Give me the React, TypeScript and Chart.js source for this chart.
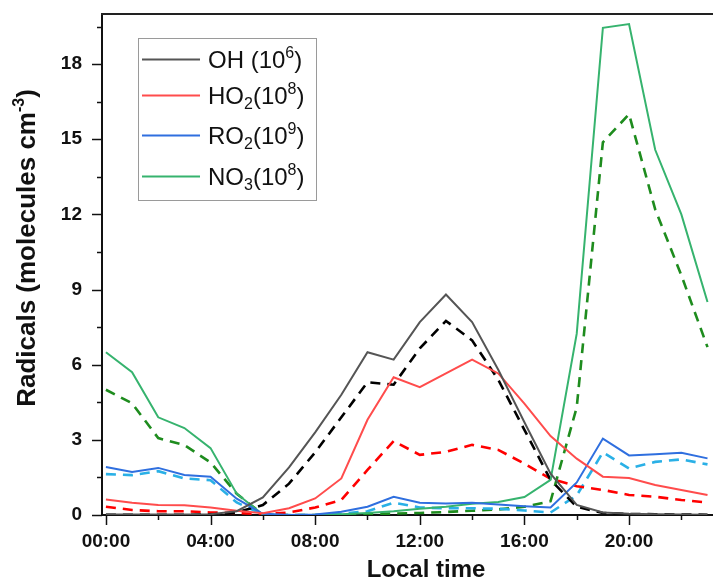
import React, { useEffect, useRef } from 'react';
import { Chart, registerables } from 'chart.js';

Chart.register(...registerables);

// ---- Data ----
const hours = [0, 1, 2, 3, 4, 5, 6, 7, 8, 9, 10, 11, 12, 13, 14, 15, 16, 17, 18, 19, 20, 21, 22, 23];

const ohSolid = [0.02, 0.02, 0.02, 0.02, 0.03, 0.15, 0.7, 1.9, 3.3, 4.8, 6.5, 6.2, 7.7, 8.8, 7.7, 5.8, 3.7, 1.65, 0.4, 0.1, 0.05, 0.03, 0.02, 0.01];
const ohDashed = [0.01, 0.01, 0.01, 0.01, 0.02, 0.1, 0.4, 1.25, 2.5, 3.9, 5.3, 5.2, 6.65, 7.75, 6.97, 5.4, 3.4, 1.4, 0.33, 0.08, 0.04, 0.03, 0.02, 0.01];
const ho2Solid = [0.62, 0.49, 0.4, 0.39, 0.3, 0.17, 0.07, 0.27, 0.66, 1.46, 3.8, 5.5, 5.1, 5.65, 6.2, 5.65, 4.45, 3.15, 2.25, 1.53, 1.48, 1.2, 1.0, 0.8];
const ho2Dashed = [0.33, 0.2, 0.15, 0.15, 0.1, 0.08, 0.03, 0.1, 0.3, 0.6, 1.8, 2.95, 2.4, 2.52, 2.8, 2.6, 2.05, 1.45, 1.15, 1.0, 0.8, 0.73, 0.6, 0.5];
const ro2Solid = [1.92, 1.72, 1.88, 1.6, 1.53, 0.65, 0.05, 0.0, 0.02, 0.13, 0.33, 0.73, 0.49, 0.46, 0.49, 0.42, 0.35, 0.3, 1.3, 3.05, 2.38, 2.43, 2.48, 2.26];
const ro2Dashed = [1.63, 1.59, 1.75, 1.46, 1.39, 0.5, 0.02, 0.0, 0.0, 0.05, 0.15, 0.49, 0.3, 0.27, 0.27, 0.25, 0.18, 0.1, 0.78, 2.5, 1.86, 2.12, 2.22, 2.02];
const no3Solid = [6.5, 5.7, 3.9, 3.47, 2.67, 0.85, 0.02, 0.0, 0.0, 0.03, 0.08, 0.15, 0.25, 0.33, 0.45, 0.52, 0.72, 1.4, 7.24, 19.45, 19.6, 14.58, 12.0, 8.5];
const no3Dashed = [5.0, 4.46, 3.07, 2.79, 2.1, 0.85, 0.02, 0.0, 0.0, 0.0, 0.03, 0.06, 0.08, 0.12, 0.17, 0.22, 0.33, 0.55, 4.3, 14.88, 16.0, 12.2, 9.57, 6.7];

const xTickValues = [0, 2, 4, 6, 8, 10, 12, 14, 16, 18, 20, 22];
const xLabelValues = [0, 4, 8, 12, 16, 20];
const yTickValues = [0, 1.5, 3, 4.5, 6, 7.5, 9, 10.5, 12, 13.5, 15, 16.5, 18, 19.5];
const yLabelValues = [0, 3, 6, 9, 12, 15, 18];

const xTitle = 'Local time';
const yTitleMain = 'Radicals (molecules cm';
const yTitleSup = '-3';
const yTitleEnd = ')';

type Part = { t: string; sub?: boolean; sup?: boolean };
const legendItems: { color: string; parts: Part[] }[] = [
  { color: '#555555', parts: [{ t: 'OH (10' }, { t: '6', sup: true }, { t: ')' }] },
  { color: '#ff4c4c', parts: [{ t: 'HO' }, { t: '2', sub: true }, { t: '(10' }, { t: '8', sup: true }, { t: ')' }] },
  { color: '#2f6fdf', parts: [{ t: 'RO' }, { t: '2', sub: true }, { t: '(10' }, { t: '9', sup: true }, { t: ')' }] },
  { color: '#36b36e', parts: [{ t: 'NO' }, { t: '3', sub: true }, { t: '(10' }, { t: '8', sup: true }, { t: ')' }] },
];

const FONT = "'Liberation Sans', Arial, sans-serif";

const toPts = (arr: number[]) => arr.map((v, i) => ({ x: hours[i], y: v }));

const decorPlugin = {
  id: 'decor',
  afterDraw(chart: any) {
    const ctx = chart.ctx as CanvasRenderingContext2D;
    const area = chart.chartArea;
    const xs = chart.scales.x;
    const ys = chart.scales.y;
    ctx.save();
    // top border
    ctx.strokeStyle = '#222';
    ctx.lineWidth = 2;
    ctx.setLineDash([]);
    ctx.beginPath();
    ctx.moveTo(area.left - 1, area.top);
    ctx.lineTo(area.right, area.top);
    ctx.stroke();
    // ticks
    ctx.strokeStyle = '#111';
    ctx.lineWidth = 1.5;
    xTickValues.forEach((v) => {
      const px = Math.round(xs.getPixelForValue(v)) + 0.5;
      const len = v % 4 === 0 ? 10 : 5;
      ctx.beginPath();
      ctx.moveTo(px, area.bottom);
      ctx.lineTo(px, area.bottom + len);
      ctx.stroke();
    });
    yTickValues.forEach((v) => {
      const py = Math.round(ys.getPixelForValue(v)) + 0.5;
      const len = v % 3 === 0 ? 10 : 5;
      ctx.beginPath();
      ctx.moveTo(area.left, py);
      ctx.lineTo(area.left - len, py);
      ctx.stroke();
    });
    // x title
    ctx.fillStyle = '#111';
    ctx.font = `bold 24px ${FONT}`;
    ctx.textAlign = 'center';
    ctx.textBaseline = 'alphabetic';
    ctx.fillText(xTitle, 426, 577);
    // y title (rotated)
    ctx.save();
    ctx.translate(35, 248);
    ctx.rotate(-Math.PI / 2);
    const big = `bold 26px ${FONT}`;
    const small = `bold 16px ${FONT}`;
    ctx.font = big;
    const w1 = ctx.measureText(yTitleMain).width;
    const w3 = ctx.measureText(yTitleEnd).width;
    ctx.font = small;
    const w2 = ctx.measureText(yTitleSup).width;
    const total = w1 + w2 + w3;
    let x0 = -total / 2;
    ctx.textAlign = 'left';
    ctx.font = big;
    ctx.fillText(yTitleMain, x0, 0);
    x0 += w1;
    ctx.font = small;
    ctx.fillText(yTitleSup, x0, -11);
    x0 += w2;
    ctx.font = big;
    ctx.fillText(yTitleEnd, x0, 0);
    ctx.restore();
    // legend
    ctx.fillStyle = '#fff';
    ctx.fillRect(138.5, 38.5, 178, 162);
    ctx.strokeStyle = '#9a9a9a';
    ctx.lineWidth = 1;
    ctx.strokeRect(138.5, 38.5, 178, 162);
    const rowsY = [59.5, 95.5, 135.5, 176.5];
    legendItems.forEach((item, i) => {
      const y = rowsY[i];
      ctx.strokeStyle = item.color;
      ctx.lineWidth = 2.2;
      ctx.beginPath();
      ctx.moveTo(142, y);
      ctx.lineTo(200, y);
      ctx.stroke();
      let x = 208;
      const base = y + 8.5;
      ctx.fillStyle = '#111';
      ctx.textAlign = 'left';
      item.parts.forEach((p) => {
        if (p.sub || p.sup) {
          ctx.font = `16px ${FONT}`;
          const yy = p.sub ? base + 5 : base - 10;
          ctx.fillText(p.t, x, yy);
          x += ctx.measureText(p.t).width;
        } else {
          ctx.font = `24px ${FONT}`;
          ctx.fillText(p.t, x, base);
          x += ctx.measureText(p.t).width;
        }
      });
    });
    ctx.restore();
  },
};

function App() {
  const ref = useRef<HTMLCanvasElement | null>(null);
  useEffect(() => {
    document.body.style.margin = '0';
    const canvas = ref.current;
    if (!canvas) return;
    const ds = (label: string, data: number[], color: string, dashed: boolean) => ({
      label,
      data: toPts(data),
      borderColor: color,
      backgroundColor: color,
      borderWidth: dashed ? 2.6 : 2,
      borderDash: dashed ? [10, 7] : [],
      pointRadius: 0,
      tension: 0,
      fill: false,
    });
    const chart = new Chart(canvas, {
      type: 'line',
      data: {
        datasets: [
          ds('OH', ohSolid, '#555555', false),
          ds('HO2', ho2Solid, '#ff4c4c', false),
          ds('RO2', ro2Solid, '#2f6fdf', false),
          ds('NO3', no3Solid, '#36b36e', false),
          ds('OH model', ohDashed, '#000000', true),
          ds('HO2 model', ho2Dashed, '#ff0000', true),
          ds('RO2 model', ro2Dashed, '#2ab0e6', true),
          ds('NO3 model', no3Dashed, '#1e8c1e', true),
        ],
      },
      options: {
        responsive: false,
        animation: false,
        devicePixelRatio: 1,
        layout: { padding: { top: 14, right: 0, left: 0, bottom: 0 } },
        plugins: { legend: { display: false }, tooltip: { enabled: false } },
        scales: {
          x: {
            type: 'linear',
            min: -0.15,
            max: 23.21,
            afterBuildTicks: (s: any) => {
              s.ticks = xTickValues.map((v) => ({ value: v }));
            },
            afterFit: (s: any) => {
              s.height = 66;
              s.paddingLeft = 0;
              s.paddingRight = 0;
              s.paddingTop = 0;
              s.paddingBottom = 0;
            },
            grid: { display: false, drawTicks: false },
            border: { display: true, color: '#111', width: 2 },
            ticks: {
              autoSkip: false,
              maxRotation: 0,
              padding: 15,
              color: '#111',
              font: { family: FONT, size: 19, weight: 'bold' },
              callback: (v: any) => {
                const n = Number(v);
                if (!xLabelValues.includes(n)) return '';
                return (n < 10 ? '0' : '') + n + ':00';
              },
            },
          },
          y: {
            type: 'linear',
            min: 0,
            max: 20,
            afterBuildTicks: (s: any) => {
              s.ticks = yTickValues.map((v) => ({ value: v }));
            },
            afterFit: (s: any) => {
              s.width = 102;
              s.paddingLeft = 0;
              s.paddingRight = 0;
              s.paddingTop = 0;
              s.paddingBottom = 0;
            },
            grid: { display: false, drawTicks: false },
            border: { display: true, color: '#111', width: 2 },
            ticks: {
              autoSkip: false,
              padding: 20,
              color: '#111',
              font: { family: FONT, size: 19, weight: 'bold' },
              callback: (v: any) => {
                const n = Number(v);
                return yLabelValues.includes(n) ? String(n) : '';
              },
            },
          },
        },
      },
      plugins: [decorPlugin],
    } as any);
    return () => chart.destroy();
  }, []);
  return <canvas ref={ref} width={713} height={581} style={{ display: 'block' }} />;
}

export default App;
